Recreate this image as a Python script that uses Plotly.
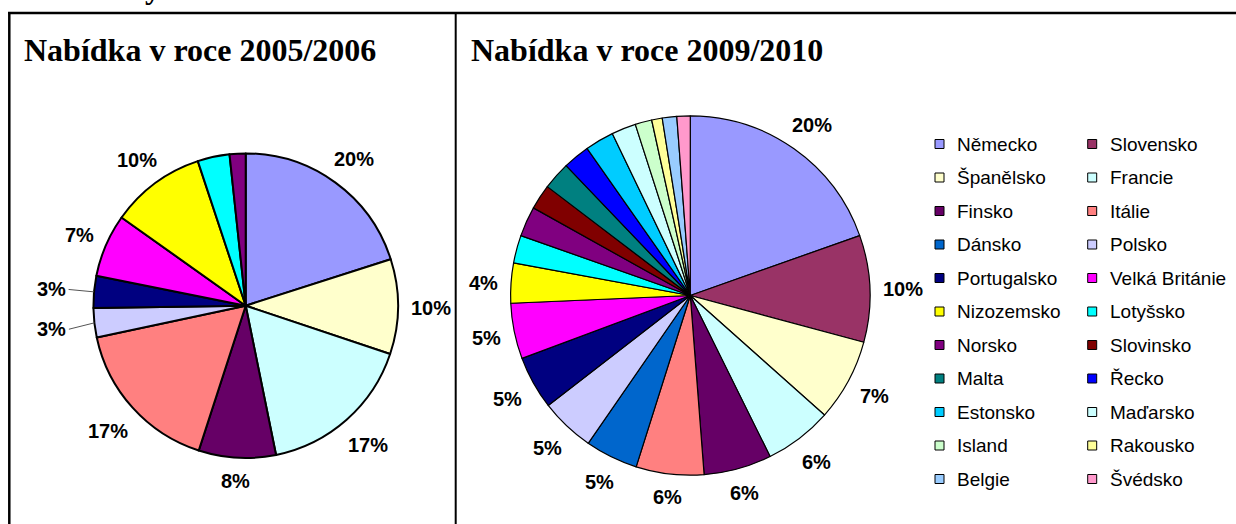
import math
import plotly.graph_objects as go

W, H = 1236, 524

# ---------------- data ----------------
countries_2006 = ["Německo", "Španělsko", "Francie", "Finsko", "Itálie", "Polsko",
                  "Portugalsko", "Velká Británie", "Nizozemsko", "Lotyšsko", "Norsko"]
share_2006 = [20.1, 10.1, 16.7, 8.2, 16.7, 3.1, 3.4, 6.7, 10.1, 3.4, 1.7]
labelled_2006 = 9            # first n slices carry a percent label
leader_2006 = [5, 6]         # slices whose labels use a leader line

countries_2010 = ["Německo", "Slovensko", "Španělsko", "Francie", "Finsko", "Itálie",
                  "Dánsko", "Polsko", "Portugalsko", "Velká Británie", "Nizozemsko",
                  "Lotyšsko", "Norsko", "Slovinsko", "Malta", "Řecko", "Estonsko",
                  "Maďarsko", "Island", "Rakousko", "Belgie", "Švédsko"]
share_2010 = [19.6, 9.6, 7.4, 6.1, 6.1, 6.1, 4.75, 4.9, 4.8, 5.0, 3.6,
              2.5, 2.7, 2.25, 2.5, 2.4, 2.6, 2.2, 1.5, 0.95, 1.3, 1.2]
labelled_2010 = 11

titles = ["Nabídka v roce 2005/2006", "Nabídka v roce 2009/2010"]

colors = {
    "Německo": "#9999FF", "Slovensko": "#993366", "Španělsko": "#FFFFCC",
    "Francie": "#CCFFFF", "Finsko": "#660066", "Itálie": "#FF8080",
    "Dánsko": "#0066CC", "Polsko": "#CCCCFF", "Portugalsko": "#000080",
    "Velká Británie": "#FF00FF", "Nizozemsko": "#FFFF00", "Lotyšsko": "#00FFFF",
    "Norsko": "#800080", "Slovinsko": "#800000", "Malta": "#008080",
    "Řecko": "#0000FF", "Estonsko": "#00CCFF", "Maďarsko": "#CCFFFF",
    "Island": "#CCFFCC", "Rakousko": "#FFFF99", "Belgie": "#99CCFF",
    "Švédsko": "#FF99CC",
}

# ---------------- helpers ----------------
def fx(x):
    return x / W


def fy(y):
    return 1 - y / H


LABEL_FS = 20
LEG_FS = 19


def label_width(txt):
    w = 0
    for ch in txt:
        w += 0.889 if ch == "%" else 0.556
    return w * LABEL_FS


def pie_trace(names, vals, cx, cy, r, lw):
    return go.Pie(
        labels=names, values=vals, sort=False, direction="clockwise", rotation=0,
        marker=dict(colors=[colors[n] for n in names], line=dict(color="black", width=lw)),
        textinfo="none", hoverinfo="skip", showlegend=False,
        domain=dict(x=[fx(cx - r), fx(cx + r)], y=[fy(cy + r), fy(cy - r)]),
    )


annotations = []
shapes = []


def pct_labels(vals, n_lab, cx, cy, r, leaders=()):
    total = float(sum(vals))
    cum = 0.0
    for i, v in enumerate(vals):
        mid = (cum + v / 2) / total * 2 * math.pi
        cum += v
        if i >= n_lab:
            continue
        txt = f"{round(v / total * 100)}%"
        hw = label_width(txt) / 2
        hh = 7.5
        s, c = math.sin(mid), -math.cos(mid)
        gap = 28 if i in leaders else 13
        d = r + gap + hw * abs(s) + hh * abs(c)
        lx, ly = cx + d * s, cy + d * c + 1.5
        annotations.append(dict(
            x=fx(lx), y=fy(ly), xref="paper", yref="paper", text=txt, showarrow=False,
            xanchor="center", yanchor="middle",
            font=dict(family="Liberation Sans, Arial", size=LABEL_FS, color="black", weight="bold"),
        ))
        if i in leaders:
            ex, ey = cx + r * s, cy + r * c
            sx = lx + (hw + 3) * (1 if s < 0 else -1)
            shapes.append(dict(type="line", xref="paper", yref="paper",
                               x0=fx(sx), y0=fy(ly), x1=fx(ex), y1=fy(ey),
                               line=dict(color="#555555", width=1)))


# ---------------- geometry ----------------
L_CX, L_CY, L_R = 245.7, 305.7, 152.3
R_CX, R_CY, R_R = 690.3, 295.5, 179.7

fig = go.Figure()
fig.add_trace(pie_trace(countries_2006, share_2006, L_CX, L_CY, L_R, 2))
fig.add_trace(pie_trace(countries_2010, share_2010, R_CX, R_CY, R_R, 1.2))

pct_labels(share_2006, labelled_2006, L_CX, L_CY, L_R, leader_2006)
pct_labels(share_2010, labelled_2010, R_CX, R_CY, R_R)

# titles
for tx, t in zip([22, 469], titles):
    annotations.append(dict(
        x=fx(tx), y=fy(50), xref="paper", yref="paper", text=t, showarrow=False,
        xanchor="left", yanchor="middle",
        font=dict(family="Liberation Serif, Times New Roman", size=32, color="black", weight="bold"),
    ))

# partial glyph of the cut-off text above the table
annotations.append(dict(
    x=fx(153), y=fy(-13), xref="paper", yref="paper", text="y", showarrow=False,
    xanchor="center", yanchor="middle",
    font=dict(family="Liberation Serif", size=32, color="black", weight="bold"),
))

# legend (two columns, row-wise order)
for i, name in enumerate(countries_2010):
    row, col = divmod(i, 2)
    yc = 144 + row * 33.5
    sx = 935 + col * 152.7
    shapes.append(dict(type="rect", xref="paper", yref="paper",
                       x0=fx(sx), x1=fx(sx + 9), y0=fy(yc + 4.5), y1=fy(yc - 4.5),
                       fillcolor=colors[name], line=dict(color="black", width=1)))
    annotations.append(dict(
        x=fx(sx + 20), y=fy(yc), xref="paper", yref="paper", text=name, showarrow=False,
        xanchor="left", yanchor="middle",
        font=dict(family="Liberation Sans, Arial", size=LEG_FS, color="black"),
    ))

# table borders
border = dict(color="black", width=2.5)
shapes.append(dict(type="line", xref="paper", yref="paper", x0=fx(8), x1=1, y0=fy(13), y1=fy(13), line=border))
shapes.append(dict(type="line", xref="paper", yref="paper", x0=fx(9.3), x1=fx(9.3), y0=fy(13), y1=0, line=border))
shapes.append(dict(type="line", xref="paper", yref="paper", x0=fx(455.7), x1=fx(455.7), y0=fy(13), y1=0,
                   line=dict(color="black", width=2)))

fig.update_layout(
    width=W, height=H, margin=dict(l=0, r=0, t=0, b=0),
    paper_bgcolor="white", plot_bgcolor="white",
    annotations=annotations, shapes=shapes, showlegend=False,
)

fig.write_html("out.html", config={"displayModeBar": False},
               post_script="document.body.style.margin='0';document.body.style.overflow='hidden';")
